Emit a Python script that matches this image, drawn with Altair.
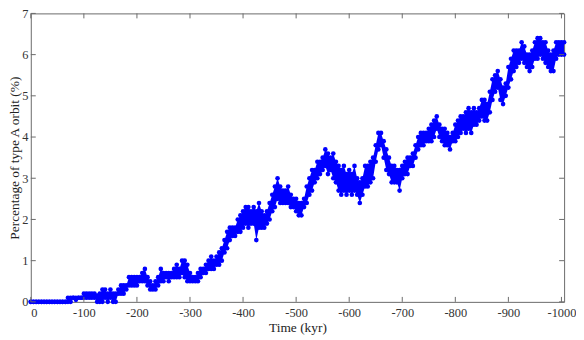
import altair as alt
import pandas as pd

# Time axis (kyr), sampled every 5 kyr from 0 to -1005
time_kyr = list(range(0, -1010, -5))

# Lower envelope of the plotted points (%)
lower = [
    0, 0, 0, 0, 0, 0, 0, 0, 0, 0,
    0, 0, 0, 0, 0, 0, 0.1, 0.05, 0.1, 0.1,
    0.1, 0.1, 0.1, 0.1, 0.1, 0, 0, 0, 0.1, 0,
    0.1, 0, 0, 0.2, 0.2, 0.2, 0.3, 0.4, 0.4, 0.4,
    0.4, 0.5, 0.5, 0.5, 0.4, 0.3, 0.3, 0.3, 0.4, 0.5,
    0.5, 0.6, 0.5, 0.6, 0.6, 0.6, 0.6, 0.7, 0.6, 0.5,
    0.5, 0.5, 0.5, 0.5, 0.6, 0.7, 0.7, 0.8, 0.8, 0.8,
    0.9, 0.9, 1.0, 1.2, 1.3, 1.5, 1.6, 1.6, 1.7, 1.7,
    1.8, 1.9, 1.8, 1.9, 1.9, 1.5, 1.8, 1.8, 1.8, 1.9,
    2.0, 2.2, 2.3, 2.5, 2.4, 2.4, 2.4, 2.4, 2.3, 2.3,
    2.2, 2.1, 2.1, 2.3, 2.4, 2.6, 2.7, 2.9, 3.0, 3.1,
    3.2, 3.3, 3.1, 3.2, 3.0, 2.9, 2.7, 2.6, 2.7, 2.6,
    2.7, 2.6, 2.7, 2.6, 2.4, 2.6, 2.8, 2.8, 2.9, 3.0,
    3.4, 3.7, 3.8, 3.5, 3.2, 3.1, 2.9, 2.9, 2.9, 2.7,
    3.0, 3.1, 3.1, 3.3, 3.3, 3.5, 3.7, 3.8, 3.8, 3.9,
    3.9, 3.9, 4.0, 4.2, 4.0, 3.9, 3.8, 3.8, 3.7, 3.9,
    3.9, 4.0, 4.1, 4.2, 4.1, 4.2, 4.1, 4.3, 4.3, 4.4,
    4.5, 4.4, 4.4, 4.6, 4.9, 5.1, 5.2, 4.9, 4.8, 5.0,
    5.2, 5.4, 5.6, 5.7, 5.8, 5.9, 5.8, 5.7, 5.6, 5.7,
    5.9, 5.9, 6.0, 5.9, 5.8, 5.7, 5.6, 5.6, 5.9, 6.0,
    6.0, 6.0,
]

# Upper envelope of the plotted points (%)
upper = [
    0, 0, 0, 0, 0, 0, 0, 0, 0, 0,
    0, 0, 0, 0, 0.1, 0.1, 0.1, 0.1, 0.1, 0.1,
    0.2, 0.2, 0.2, 0.2, 0.2, 0.15, 0.2, 0.3, 0.3, 0.2,
    0.3, 0.2, 0.2, 0.3, 0.4, 0.4, 0.4, 0.6, 0.6, 0.6,
    0.6, 0.6, 0.7, 0.8, 0.6, 0.5, 0.4, 0.5, 0.6, 0.8,
    0.7, 0.7, 0.7, 0.7, 0.8, 0.9, 0.8, 1.0, 1.0, 0.9,
    0.7, 0.6, 0.6, 0.7, 0.8, 0.8, 0.9, 1.0, 1.1, 1.0,
    1.1, 1.2, 1.3, 1.5, 1.7, 1.8, 1.8, 1.8, 2.0, 2.1,
    2.2, 2.3, 2.3, 2.2, 2.3, 2.2, 2.4, 2.2, 2.1, 2.2,
    2.4, 2.6, 2.8, 3.0, 2.8, 2.7, 2.7, 2.8, 2.6, 2.5,
    2.5, 2.4, 2.4, 2.5, 2.8, 3.0, 3.2, 3.2, 3.4, 3.4,
    3.5, 3.7, 3.6, 3.5, 3.6, 3.4, 3.3, 3.2, 3.3, 3.1,
    3.2, 3.1, 3.3, 3.0, 2.9, 3.0, 3.3, 3.3, 3.4, 3.5,
    3.8, 4.1, 4.1, 3.9, 3.7, 3.5, 3.3, 3.3, 3.2, 3.2,
    3.3, 3.4, 3.5, 3.5, 3.6, 3.8, 4.0, 4.1, 4.1, 4.1,
    4.2, 4.3, 4.4, 4.5, 4.3, 4.2, 4.2, 4.1, 4.0, 4.1,
    4.3, 4.4, 4.5, 4.5, 4.6, 4.7, 4.6, 4.7, 4.6, 4.7,
    4.9, 4.9, 4.8, 5.1, 5.4, 5.5, 5.6, 5.4, 5.2, 5.3,
    5.7, 5.9, 6.1, 6.1, 6.1, 6.3, 6.2, 6.0, 6.0, 6.1,
    6.3, 6.4, 6.4, 6.3, 6.3, 6.1, 6.0, 6.1, 6.3, 6.3,
    6.3, 6.3,
]

x_ticks = [0, -100, -200, -300, -400, -500, -600, -700, -800, -900, -1000]
y_ticks = [0, 1, 2, 3, 4, 5, 6, 7]

W, H = 538, 291
BLUE = "#0000ff"
GRAY = "#6a6a6a"
FONT = "Liberation Serif"

df = pd.DataFrame({"t": time_kyr, "lo": lower, "hi": upper})
pts = pd.DataFrame({"t": time_kyr + time_kyr, "v": lower + upper})
xt = pd.DataFrame({"t": x_ticks})
yt = pd.DataFrame({"v": y_ticks})

xs = alt.Scale(domain=[0, -1005], nice=False, zero=False)
ys = alt.Scale(domain=[0, 7], nice=False, zero=False)

x_axis = alt.Axis(
    values=x_ticks, title="Time (kyr)", ticks=False, tickSize=0, domain=False,
    grid=False, labelExpr="'' + datum.value", labelPadding=5,
    titleY=30, titleBaseline="alphabetic",
)
y_axis = alt.Axis(
    values=y_ticks, title="Percentage of type A orbit (%)", ticks=False,
    tickSize=0, domain=False, grid=False, labelPadding=3,
    titleX=-16.5, titleY=H / 2, titleBaseline="middle", titleAngle=-90,
)

X = alt.X("t:Q", scale=xs, axis=x_axis)

area = alt.Chart(df).mark_area(color=BLUE, opacity=1).encode(
    x=X, y=alt.Y("lo:Q", scale=ys, axis=y_axis), y2="hi:Q"
)
points = alt.Chart(pts).mark_circle(color=BLUE, size=22, opacity=1).encode(
    x=X, y=alt.Y("v:Q", scale=ys, axis=y_axis)
)

bottom_ticks = alt.Chart(xt).mark_rule(color=GRAY).encode(
    x=X, y=alt.value(H), y2=alt.value(H - 5)
)
top_ticks = alt.Chart(xt).mark_rule(color=GRAY).encode(
    x=X, y=alt.value(0), y2=alt.value(5)
)
left_ticks = alt.Chart(yt).mark_rule(color=GRAY).encode(
    y=alt.Y("v:Q", scale=ys, axis=y_axis), x=alt.value(0), x2=alt.value(5)
)
right_ticks = alt.Chart(yt).mark_rule(color=GRAY).encode(
    y=alt.Y("v:Q", scale=ys, axis=y_axis), x=alt.value(W - 5), x2=alt.value(W)
)

chart = (
    alt.layer(area, points, bottom_ticks, top_ticks, left_ticks, right_ticks)
    .properties(
        width=W, height=H,
        autosize=alt.AutoSizeParams(type="none"),
        padding={"left": 23, "top": 4, "right": 12, "bottom": 36},
    )
    .configure_view(stroke=GRAY, strokeWidth=1)
    .configure_axis(
        labelFont=FONT, labelFontSize=12.5, labelColor="#333333",
        titleFont=FONT, titleFontSize=13.5, titleColor="#222222",
        titleFontWeight="normal",
    )
)

chart.save("out.html", embed_options={"renderer": "svg", "actions": False})
